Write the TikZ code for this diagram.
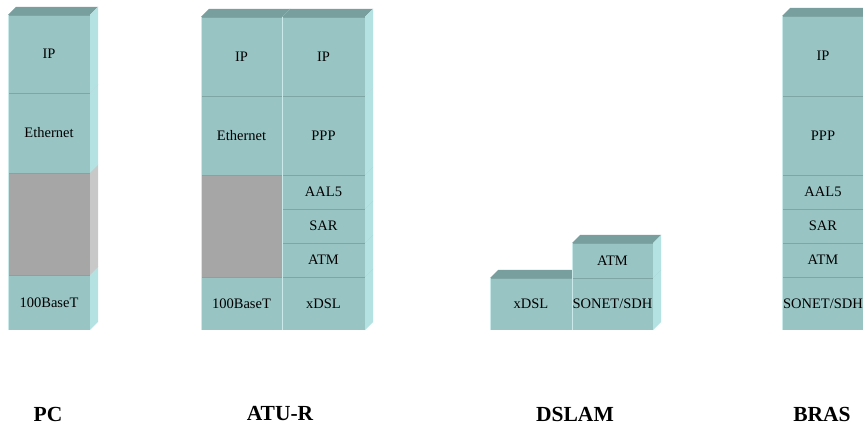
\documentclass[tikz,border=0pt]{standalone}
\usepackage{fontspec}
\setmainfont{Liberation Serif}
\definecolor{frontc}{HTML}{99C4C4}
\definecolor{topc}{HTML}{789E9E}
\definecolor{sidec}{HTML}{B4E1E1}
\definecolor{linec}{HTML}{7FA5A5}
\definecolor{grayfront}{HTML}{A6A6A6}
\definecolor{grayside}{HTML}{C8C8C8}
\definecolor{graytop}{HTML}{8A8A8A}
\tikzset{
  layertext/.style={font=\fontsize{14.5}{16}\selectfont, inner sep=0pt},
  devlabel/.style={font=\fontsize{21.5}{24}\selectfont\bfseries, inner sep=0pt}
}
% \layer{name}{x}{ytop}{w}{h}{text}{front}{top}{side}
\newcommand\layer[9]{%
  \fill[#8] (#2,#3) -- ++(8,-8) -- ++(#4,0) -- ++(-8,8) -- cycle;
  \fill[#9] (#2+#4,#3) -- ++(8,-8) -- ++(0,#5) -- ++(-8,8) -- cycle;
  \fill[#7] (#2,#3) rectangle ++(#4,#5);
  \draw[linec, line width=0.8pt] (#2,#3) -- ++(#4,0);
  \draw[sidec!70!white, line width=0.5pt] (#2,#3) -- ++(0,#5);
  \node[layertext] (#1) at (#2+#4/2,#3+#5/2) {#6};
}
\newcommand\tl[6]{\layer{#1}{#2}{#3}{#4}{#5}{#6}{frontc}{topc}{sidec}}
\begin{document}
\begin{tikzpicture}[x=1pt,y=-1pt]
\useasboundingbox (0,0) rectangle (863,430);
\fill[white] (0,0) rectangle (863,430);
% PC
\tl{pcphy}{8}{275}{82}{55}{100BaseT}
\layer{pcgap}{8}{173}{82}{102}{}{grayfront}{graytop}{grayside}
\tl{pceth}{8}{93}{82}{80}{Ethernet}
\tl{pcip}{8}{15}{82}{78}{IP}
% ATU-R left column
\tl{aphy}{201}{277}{81}{53}{100BaseT}
\layer{agap}{201}{175}{81}{102}{}{grayfront}{graytop}{grayside}
\tl{aeth}{201}{96}{81}{79}{Ethernet}
\tl{aip}{201}{17}{81}{79}{IP}
% ATU-R right column
\tl{adsl}{282}{277}{83}{53}{xDSL}
\tl{aatm}{282}{243}{83}{34}{ATM}
\tl{asar}{282}{209}{83}{34}{SAR}
\tl{aaal}{282}{175}{83}{34}{AAL5}
\tl{appp}{282}{96}{83}{79}{PPP}
\tl{aipr}{282}{17}{83}{79}{IP}
% DSLAM
\tl{ddsl}{490}{278}{82}{52}{xDSL}
\tl{dson}{572}{278}{81}{52}{SONET/SDH}
\tl{datm}{572}{243}{81}{35}{ATM}
% BRAS
\tl{bson}{782}{277}{82}{53}{SONET/SDH}
\tl{batm}{782}{243}{82}{34}{ATM}
\tl{bsar}{782}{209}{82}{34}{SAR}
\tl{baal}{782}{175}{82}{34}{AAL5}
\tl{bppp}{782}{96}{82}{79}{PPP}
\tl{bip}{782}{16}{82}{80}{IP}
% labels
\node[devlabel] (lpc) at (48,414) {PC};
\node[devlabel] (latu) at (280,414) {ATU-R};
\node[devlabel] (ldslam) at (575,414) {DSLAM};
\node[devlabel] (lbras) at (822,414) {BRAS};
\end{tikzpicture}
\end{document}
